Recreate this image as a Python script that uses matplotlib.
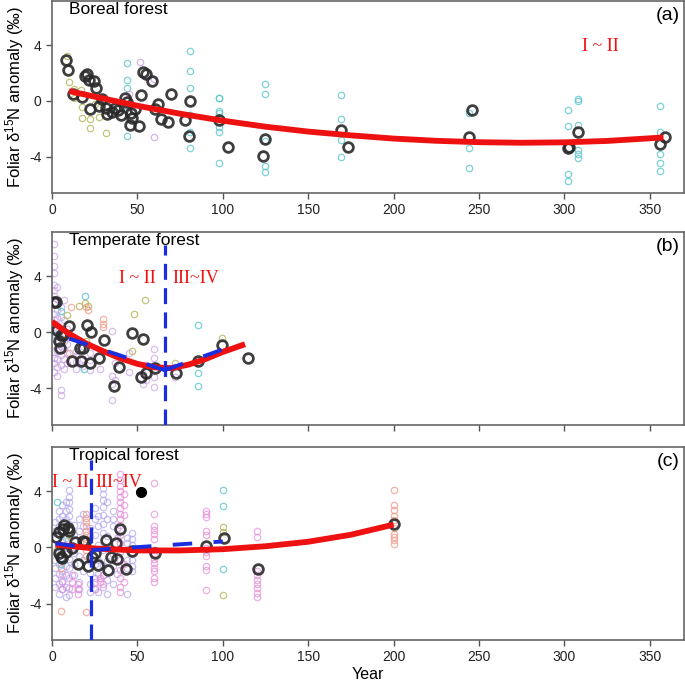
import numpy as np
import matplotlib
matplotlib.use("Agg")
import matplotlib.pyplot as plt

plt.rcParams['font.family'] = ['Liberation Sans', 'DejaVu Sans']
plt.rcParams['mathtext.fontset'] = 'custom'
plt.rcParams['mathtext.rm'] = 'Liberation Sans'
plt.rcParams['mathtext.it'] = 'Liberation Sans:italic'
plt.rcParams['axes.unicode_minus'] = False

# ---------------- boreal forest (a) ----------------
boreal_mean_x = [8.4, 9.4, 12.2, 17.3, 20.6, 19.2, 21.6, 24.5, 25.9, 22.5, 29.4, 27.5, 31.4, 32.4,
                 35, 36.9, 38.8, 40.2, 42.7, 44.1, 46.1, 47, 48.6, 45.7, 51, 52, 53, 54.9, 58.8,
                 61.8, 60.2, 64.1, 68.2, 69.6, 78, 80.8, 80, 102.9, 97.6, 123.5, 124.9, 169, 173.5,
                 246, 244, 302, 302.7, 308, 356, 358.8]
boreal_mean_y = [2.9, 2.2, 0.5, 0.25, 1.9, 1.75, 1.5, 1.4, 0.95, -0.55, 0.15, -0.4, -0.5, -0.95,
                 -0.8, -0.5, -0.65, -1.0, 0.2, -0.1, -0.9, -1.2, -0.6, -1.75, -1.8, 0.45, 2.05, 1.9, 1.4,
                 -0.2, -0.6, -1.3, -1.5, 0.5, -1.4, 0.0, -2.55, -3.3, -1.4, -3.95, -2.7, -2.1, -3.3,
                 -0.64, -2.58, -3.36, -3.3, -2.23, -3.1, -2.6]

boreal_cyan = {44: [2.7, 1.47, 0.95, -0.4, -2.5],
               81: [3.55, 2.13, 0.95, -1.0, -2.2, -3.4],
               98: [0.24, 0.17, -0.7, -0.9, -1.85, -2.2, -4.45],
               125: [1.23, 0.47, -2.9, -4.65, -5.1],
               169: [0.45, -1.33, -2.8, -4.05],
               244: [-0.88, -3.34, -4.83],
               302: [-0.64, -1.8, -5.24, -5.73],
               308: [0.14, 0.02, -1.7, -3.53, -3.8, -4.12],
               356: [-0.36, -2.23, -3.77, -4.48, -5.0]}
boreal_olive_x = [8.5, 10, 12.7, 17, 17.6, 17.6, 22.5, 22.5, 27.5, 31.4, 13, 25, 29]
boreal_olive_y = [3.2, 1.35, 0.88, 0.8, -0.43, -1.25, -1.33, -1.97, -1.14, -2.32, 0.2, -0.2, -0.1]
boreal_purple_x = [51.4, 60, 45, 60, 45]
boreal_purple_y = [2.8, -2.56, 0.5, 1.6, -0.7]

boreal_fit_x = [10, 25, 50, 75, 100, 125, 150, 175, 200, 225, 250, 275, 300, 325, 358]
boreal_fit_y = [0.7, 0.3, -0.35, -0.92, -1.42, -1.85, -2.2, -2.47, -2.7, -2.86, -2.96, -3.0,
                -2.97, -2.87, -2.62]

# ---------------- temperate forest (b) ----------------
temp_mean_x = [1.4, 2.4, 2.7, 3.9, 4.9, 5.3, 6.3, 10.2, 11.8, 16.5, 18, 17, 20.4, 22.9, 22.4,
               27.3, 30.2, 39.2, 36.1, 47.1, 53.3, 52.4, 55.3, 60.2, 72.5, 85.7, 99.4, 114.5]
temp_mean_y = [2.14, 2.14, 0.19, -0.59, -1.1, -0.16, -0.16, 0.42, -2.05, -1.15, -1.15, -2.05, 0.5,
               0.0, -2.16, -1.81, -0.52, -2.47, -3.81, -0.05, -0.47, -3.18, -2.87, -2.52, -2.87,
               -2.05, -0.92, -1.81]

temp_purple = {1: [6.3, 5.4, 4.7, 4.2, 3.4, 3.0, 2.6, 2.0, 1.3, 0.9, 0.4, -0.4, -0.9, -1.4, -1.8, -2.2, -2.8],
               3: [3.2, 2.4, 1.6, 1.0, 0.5, -0.2, -0.7, -1.3, -1.9, -2.5, -3.1],
               5: [1.8, 1.1, -0.4, -1.0, -1.6, -2.3, -4.1, -4.5],
               7: [2.3, 0.9, -0.6, -1.2, -1.9, -2.6],
               9: [0.2, -0.8, -1.5, -2.2],
               14: [-1.3, -1.7, -2.1, -2.6],
               18: [-1.0, -1.9, -2.4],
               22: [-1.5, -2.0, -2.7],
               28: [-2.6],
               35: [-3.7, -4.8, -3.1, 0.1],
               37: [-3.4, -2.2],
               45: [-1.5, -2.8],
               53: [-3.0, -3.7],
               55: [-2.3, -3.4],
               60: [-1.2, -1.8, -2.3, -3.2, -3.9],
               72: [-3.2, -2.5]}
temp_olive_x = [9, 16, 19.5, 21, 48, 54.4, 47, 72, 99.6, 20]
temp_olive_y = [1.25, 1.88, 2.1, 1.85, 1.3, 2.29, -1.33, -2.17, -0.4, -0.6]
temp_cyan_x = [5, 19.5, 19, 85.5, 85.5, 85.5, 2]
temp_cyan_y = [1.5, 2.6, -2.6, 0.52, -2.88, -3.79, -0.2]
temp_salmon_x = [11, 20, 21, 30, 30, 30, 37, 10]
temp_salmon_y = [1.8, 1.8, 1.6, 0.95, 0.6, 0.35, -1.6, -1.5]

temp_fit_x = [0, 10, 20, 30, 40, 50, 60, 70, 80, 90, 100, 113]
temp_fit_y = [0.75, -0.1, -0.8, -1.35, -1.85, -2.25, -2.5, -2.55, -2.3, -1.9, -1.4, -0.85]
temp_break = 66
temp_seg1_x, temp_seg1_y = [10, 66], [-0.45, -2.7]
temp_seg2_x, temp_seg2_y = [66, 100], [-2.7, -1.22]

# ---------------- tropical forest (c) ----------------
trop_mean_x = [2.4, 3.9, 6.3, 7.3, 9.2, 10.2, 4.3, 5.9, 5.5, 8.2, 11.8, 15.1, 13.7, 18, 19.6, 21,
               23.5, 24.9, 26.9, 31.8, 32.7, 34.7, 37.3, 38, 40, 43.1, 47.1, 60.2, 90.2, 100.8,
               120.4, 200]
trop_mean_y = [0.76, 1.1, 1.28, 1.59, 1.35, 1.18, -0.43, -0.78, -0.66, -0.3, -0.07, -1.18, 0.4,
               0.45, 0.4, -1.33, -0.7, -0.43, -1.26, 0.52, -1.61, -0.71, 0.33, -0.85, 1.28, -1.56,
               -0.24, -0.43, 0.1, 0.64, -1.56, 1.69]
trop_outlier_x, trop_outlier_y = [52.4], [3.91]

trop_lav = {2: [1.8, 1.2, 0.6, -0.3, -0.9, -1.5, -2.2, -2.8],
            4: [2.6, 2.0, 1.5, 0.9, 0.2, -0.6, -1.2, -1.9, -2.6, -3.3],
            6: [3.0, 2.2, 1.6, 1.0, -0.2, -1.0, -1.7, -2.4, -3.0],
            8: [3.2, 2.6, 2.0, 1.4, 0.7, -0.5, -1.3, -2.0, -2.8, -3.5],
            10: [4.1, 3.6, 3.2, 2.7, 2.2, 1.7, 0.8, -0.8, -1.5, -2.2, -2.9, -3.4],
            13: [1.6, 0.9, -0.4, -1.2, -2.0],
            16: [2.0, 1.2, -0.6, -2.5, -3.0],
            18: [2.4, 1.5, -0.9, -1.7],
            22: [1.4, 0.8, -1.0, -1.8, -2.6, -3.2],
            25: [2.8, 2.0, 0.9, -1.2, -2.2, -3.0],
            27: [2.2, 1.5, 0.2, -0.9, -1.9, -3.2],
            30: [4.2, 3.8, 3.4, 2.9, 2.3, 1.7, 1.0, -0.2, -1.3, -2.0, -2.8],
            32: [3.2, 2.0, 0.8, -1.0, -2.3, -3.3],
            36: [2.6, 2.0, 1.5, -0.5, -1.3, -2.6],
            38: [1.4, 0.7, -1.9],
            44: [0.7, 0.3, -0.9, -1.5, -3.3],
            47: [1.0, 0.6, 0.2, -0.4, -0.9, -1.3, -1.7]}
trop_pink = {6: [-1.9, -2.5, -3.0],
             12: [-2.0, -2.5, -3.0],
             15: [-2.6, -3.0, -3.3],
             25: [-2.5, -3.0],
             28: [-2.2, -2.5],
             30: [-2.0, -2.6],
             40: [5.2, 4.8, 4.4, 4.0, 3.6, 3.2, 2.8, 2.4, 2.0, 1.6, 0.9, 0.3, -0.3, -0.9, -1.6, -2.2, -2.8, -3.2],
             42: [3.8, 3.0, 2.3, -1.2, -2.5],
             60: [4.55, 2.37, 1.52, 1.23, 0.95, 0.57, -0.19, -0.55, -0.85, -1.14, -1.5, -1.68, -2.2, -2.44],
             90: [2.6, 2.37, 2.13, 1.18, 0.88, -0.07, -0.3, -0.62, -1.33, -1.61, -3.03],
             120: [1.18, 0.76, -1.66, -1.97, -2.32, -2.6, -2.9, -3.27, -3.55]}
trop_salmon = {5: [-4.5, -1.5],
               20: [2.4, 2.1, 1.8, 1.5, 1.2, 0.9, 0.6, 0.3, -0.2, -0.6, -4.6],
               200: [4.12, 3.0, 2.64, 2.21, 1.93, 1.4, 0.98, 0.74, 0.55, 0.26]}
trop_cyan_x = [3, 100, 100, 100, 5, 6]
trop_cyan_y = [3.24, 4.12, 2.94, -1.56, -1.2, 0.5]
trop_olive_x = [100, 100, 100, 3, 10]
trop_olive_y = [1.47, 1.11, -3.39, -0.2, 0.9]

trop_fit_x = [2, 25, 50, 75, 100, 125, 150, 175, 200]
trop_fit_y = [0.2, -0.08, -0.22, -0.22, -0.13, 0.08, 0.4, 0.9, 1.62]
trop_break = 23
trop_seg1_x, trop_seg1_y = [2, 23], [0.28, -0.05]
trop_seg2_x, trop_seg2_y = [23, 100], [-0.2, 0.42]

xticks = [0, 50, 100, 150, 200, 250, 300, 350]
yticks = [-4, 0, 4]

RED = '#ee1111'
BLUE = '#1a2ee0'
BLACK = '#2a2a2a'
CYAN = '#5cc6cf'
OLIVE = '#b8b45a'
LAV = '#b3a6ec'
PURPLE = '#c9a2e6'
PINK = '#e88ad8'
SALMON = '#f0a090'


def cols(d):
    xs = [k for k, v in d.items() for _ in v]
    ys = [y for v in d.values() for y in v]
    return xs, ys


def small(ax, x, y, c, alpha=0.8):
    ax.plot(x, y, 'o', ms=4.6, mfc='none', mec=c, mew=0.9, alpha=alpha, zorder=2)


def big(ax, x, y):
    ax.plot(x, y, 'o', ms=7, mfc='none', mec=BLACK, mew=2.0, alpha=0.9, zorder=4)


def style(ax, label, tag, show_x=True):
    ax.set_xlim(0, 370)
    ax.set_ylim(-6.6, 7.15)
    ax.set_xticks(xticks)
    ax.set_yticks(yticks)
    ax.tick_params(direction='out', length=4.5, width=1, color='#555555',
                   labelsize=10, labelcolor='#222222', pad=3)
    if not show_x:
        ax.set_xticklabels([])
    for s in ax.spines.values():
        s.set_color('#666666')
        s.set_linewidth(1.2)
    ax.text(0.027, 0.995, label, transform=ax.transAxes, ha='left', va='top', fontsize=12.5)
    ax.text(0.993, 0.97, tag, transform=ax.transAxes, ha='right', va='top', fontsize=14)


def ylab(ax):
    # centre of the label sits at about x = 15 px
    bb = ax.get_position()
    fig.text(15 / 685, bb.y0 + bb.height / 2, 'Foliar δ$^{15}$N anomaly (‰)', rotation=90,
             ha='center', va='center', fontsize=12)


def stage(ax, x, y, s):
    ax.text(x, y, s, color=RED, fontsize=13, family='Liberation Serif', ha='center', va='center', zorder=6)


fig = plt.figure(figsize=(6.85, 6.84), dpi=100)
L, W = 0.0759, 0.9226
ax_a = fig.add_axes([L, 0.7178, W, 0.2807])
ax_b = fig.add_axes([L, 0.3787, W, 0.2823])
ax_c = fig.add_axes([L, 0.0643, W, 0.2822])

# (a)
cx, cy = cols(boreal_cyan)
small(ax_a, cx, cy, CYAN)
small(ax_a, boreal_olive_x, boreal_olive_y, OLIVE)
small(ax_a, boreal_purple_x, boreal_purple_y, PURPLE)
big(ax_a, boreal_mean_x, boreal_mean_y)
ax_a.plot(boreal_fit_x, boreal_fit_y, color=RED, lw=4.2, solid_capstyle='butt', zorder=5)
stage(ax_a, 321, 3.9, 'I ~ II')
style(ax_a, 'Boreal forest', '(a)')

# (b)
px, py = cols(temp_purple)
small(ax_b, px, py, PURPLE, 0.7)
small(ax_b, temp_olive_x, temp_olive_y, OLIVE)
small(ax_b, temp_cyan_x, temp_cyan_y, CYAN)
small(ax_b, temp_salmon_x, temp_salmon_y, SALMON)
big(ax_b, temp_mean_x, temp_mean_y)
ax_b.plot(temp_fit_x, temp_fit_y, color=RED, lw=4.2, solid_capstyle='butt', zorder=5)
ax_b.plot(temp_seg1_x, temp_seg1_y, color=BLUE, lw=2.8, dashes=(5, 5.5), zorder=6)
ax_b.plot(temp_seg2_x, temp_seg2_y, color=BLUE, lw=2.8, dashes=(5, 5.5), zorder=6)
ax_b.plot([temp_break, temp_break], [-6.6, 6.2], color=BLUE, lw=2.3, dashes=(5, 2.6), zorder=6)
stage(ax_b, 50, 3.85, 'I ~ II')
stage(ax_b, 84, 3.85, 'III~IV')
style(ax_b, 'Temperate forest', '(b)', show_x=False)

# (c)
lx, ly = cols(trop_lav)
small(ax_c, lx, ly, LAV, 0.7)
kx, ky = cols(trop_pink)
small(ax_c, kx, ky, PINK, 0.7)
sx, sy = cols(trop_salmon)
small(ax_c, sx, sy, SALMON, 0.8)
small(ax_c, trop_cyan_x, trop_cyan_y, CYAN)
small(ax_c, trop_olive_x, trop_olive_y, OLIVE)
big(ax_c, trop_mean_x, trop_mean_y)
ax_c.plot(trop_outlier_x, trop_outlier_y, 'o', ms=7, color='black', zorder=4)
ax_c.plot(trop_fit_x, trop_fit_y, color=RED, lw=4.2, solid_capstyle='butt', zorder=5)
ax_c.plot(trop_seg1_x, trop_seg1_y, color=BLUE, lw=2.8, dashes=(5, 5.5), zorder=6)
ax_c.plot(trop_seg2_x, trop_seg2_y, color=BLUE, lw=2.8, dashes=(5, 5.5), zorder=6)
ax_c.plot([trop_break, trop_break], [-6.6, 6.2], color=BLUE, lw=2.3, dashes=(5, 2.6), zorder=6)
stage(ax_c, 11, 4.65, 'I ~ II')
stage(ax_c, 39, 4.65, 'III~IV')
style(ax_c, 'Tropical forest', '(c)')
ax_c.set_xlabel('Year', fontsize=11.5, labelpad=2)

for ax in (ax_a, ax_b, ax_c):
    ylab(ax)

fig.savefig('out.png', dpi=100)
